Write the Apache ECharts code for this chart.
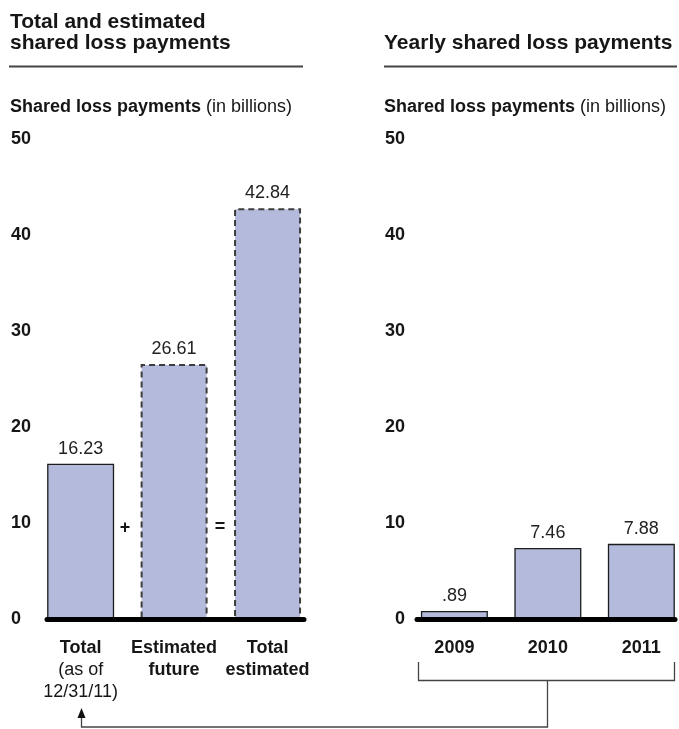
<!DOCTYPE html>
<html>
<head>
<meta charset="utf-8">
<script src="https://cdn.jsdelivr.net/npm/echarts@6/dist/echarts.min.js"></script>
<style>
  html, body { margin: 0; padding: 0; background: #fff; }
  #chart { width: 679px; height: 729px; }
</style>
</head>
<body>
<div id="chart"></div>
<script>
// Left panel: paid to date, estimated future, and their total (billions of dollars)
const totalCategories = ['Total', 'Estimated\nfuture', 'Total\nestimated'];
const totalNotes = ['(as of\n12/31/11)', '', ''];
const totalValues = [16.23, 26.61, 42.84];
const totalIsEstimate = [false, true, true];

// Right panel: shared loss payments by year (billions of dollars)
const yearCategories = ['2009', '2010', '2011'];
const yearValues = [0.89, 7.46, 7.88];

// Value axis ticks
const yMin = 0;
const yMax = 50;
const yStep = 10;

const FONT = '"Liberation Sans", Arial, Helvetica, sans-serif';
const BAR_FILL = '#b3badb';
const TEXT = '#161616';

function fmtValue(v) {
  return v < 1 ? String(v).replace(/^0\./, '.') : v.toFixed(2);
}

function totalLabel(v) {
  const i = Math.round(v);
  if (i < 0 || i >= totalCategories.length) return '';
  let s = totalCategories[i].split('\n').map(l => '{b|' + l + '}').join('\n');
  if (totalNotes[i]) s += '\n' + totalNotes[i].split('\n').map(l => '{n|' + l + '}').join('\n');
  return s;
}

function yearLabel(v) {
  const i = Math.round(v);
  return (i >= 0 && i < yearCategories.length) ? '{b|' + yearCategories[i] + '}' : '';
}

const labelRich = {
  b: { fontFamily: FONT, fontWeight: 'bold', fontSize: 18, lineHeight: 22, color: TEXT },
  n: { fontFamily: FONT, fontWeight: 'normal', fontSize: 18, lineHeight: 22, color: TEXT }
};

function categoryAxis(gridIndex, min, max, count, formatter) {
  const ticks = [];
  for (let i = 0; i < count; i++) ticks.push(i);
  return {
    gridIndex: gridIndex,
    type: 'value',
    min: min,
    max: max,
    z: 5,
    axisLine: { show: true, onZero: false, lineStyle: { color: '#000', width: 5 } },
    axisTick: { show: false },
    splitLine: { show: false },
    axisLabel: {
      customValues: ticks,
      formatter: formatter,
      margin: 18,
      rich: labelRich
    }
  };
}

function valueAxis(gridIndex, align, margin) {
  return {
    gridIndex: gridIndex,
    type: 'value',
    min: yMin,
    max: yMax,
    interval: yStep,
    axisLine: { show: false },
    axisTick: { show: false },
    splitLine: { show: false },
    axisLabel: {
      align: align,
      margin: margin,
      fontFamily: FONT,
      fontWeight: 'bold',
      fontSize: 18,
      color: TEXT
    }
  };
}

const barLabel = {
  show: true,
  position: 'top',
  distance: 6,
  fontFamily: FONT,
  fontSize: 18,
  color: '#222',
  formatter: p => fmtValue(p.value[1])
};

const totalData = totalValues.map((v, i) => ({
  value: [i, v],
  itemStyle: totalIsEstimate[i]
    ? { borderColor: '#3c3c3c', borderWidth: 2, borderType: [6, 4] }
    : { borderColor: '#1c1c1c', borderWidth: 1.3 }
}));

const yearData = yearValues.map((v, i) => ({ value: [i, v] }));

const chart = echarts.init(document.getElementById('chart'), null, { renderer: 'canvas' });

chart.setOption({
  backgroundColor: '#ffffff',
  animation: false,
  title: [
    {
      text: 'Total and estimated\nshared loss payments',
      left: 10, top: 12, padding: 0,
      textStyle: { fontFamily: FONT, fontWeight: 'bold', fontSize: 21, lineHeight: 21, color: TEXT }
    },
    {
      text: 'Yearly shared loss payments',
      left: 384, top: 33, padding: 0,
      textStyle: { fontFamily: FONT, fontWeight: 'bold', fontSize: 21, lineHeight: 21, color: TEXT }
    },
    {
      text: '{b|Shared loss payments} {n|(in billions)}',
      left: 10, top: 96, padding: 0,
      textStyle: { rich: labelRich }
    },
    {
      text: '{b|Shared loss payments} {n|(in billions)}',
      left: 384, top: 96, padding: 0,
      textStyle: { rich: labelRich }
    }
  ],
  grid: [
    { left: 47, width: 257, top: 139.5, height: 480 },
    { left: 417, width: 258, top: 139.5, height: 480 }
  ],
  xAxis: [
    categoryAxis(0, -0.36, 2.39, totalCategories.length, totalLabel),
    categoryAxis(1, -0.40, 2.36, yearCategories.length, yearLabel)
  ],
  yAxis: [
    valueAxis(0, 'left', 36),
    valueAxis(1, 'right', 12)
  ],
  series: [
    {
      type: 'bar',
      xAxisIndex: 0,
      yAxisIndex: 0,
      barWidth: 67,
      itemStyle: { color: BAR_FILL },
      label: barLabel,
      data: totalData
    },
    {
      type: 'bar',
      xAxisIndex: 1,
      yAxisIndex: 1,
      barWidth: 67,
      itemStyle: { color: BAR_FILL, borderColor: '#1c1c1c', borderWidth: 1.3 },
      label: barLabel,
      data: yearData
    }
  ],
  graphic: [
    // rules under the panel headings
    { type: 'line', shape: { x1: 9, y1: 66.5, x2: 303, y2: 66.5 }, style: { stroke: '#444', lineWidth: 2 } },
    { type: 'line', shape: { x1: 384, y1: 66.5, x2: 677, y2: 66.5 }, style: { stroke: '#444', lineWidth: 2 } },
    // operators between the left-hand bars
    { type: 'text', x: 125, y: 528, style: { text: '+', fontFamily: FONT, fontWeight: 'bold', fontSize: 18, fill: TEXT, align: 'center', verticalAlign: 'middle' } },
    { type: 'text', x: 220, y: 527, style: { text: '=', fontFamily: FONT, fontWeight: 'bold', fontSize: 18, fill: TEXT, align: 'center', verticalAlign: 'middle' } },
    // bracket grouping the yearly bars
    { type: 'polyline', shape: { points: [[418.5, 662], [418.5, 680.5], [674.5, 680.5], [674.5, 662]] }, style: { stroke: '#444', lineWidth: 1.3, fill: null } },
    // connector from the bracket back to the paid-to-date bar
    { type: 'polyline', shape: { points: [[547.5, 680.5], [547.5, 727], [81.5, 727], [81.5, 716]] }, style: { stroke: '#444', lineWidth: 1.3, fill: null } },
    { type: 'polygon', shape: { points: [[81.5, 708], [77.5, 718], [85.5, 718]] }, style: { fill: '#111' } }
  ]
});
</script>
</body>
</html>
